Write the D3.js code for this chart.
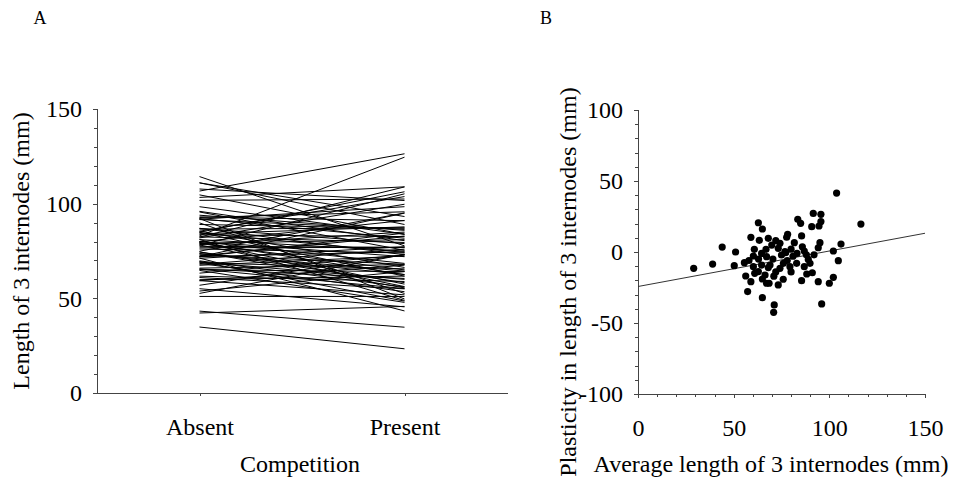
<!DOCTYPE html>
<html>
<head>
<meta charset="utf-8">
<script src="https://cdn.jsdelivr.net/npm/d3@7"></script>
<style>
  body { margin: 0; background: #fff; }
  svg text { font-family: "Liberation Serif", "Times New Roman", Times, serif; fill: #000; }
  .axis path, .axis line { stroke: #444; shape-rendering: crispEdges; }
</style>
</head>
<body>
<script>
// Panel B readings: average length of the 3 internodes and plasticity (present - absent), mm
var avgLength = [
  62.9, 65, 59, 63.4, 68.1, 44, 51, 60.8, 66.9,
  103.8, 91.6, 95.6, 83.5, 85, 95.6, 90.8, 94.6, 116.5, 78.2, 77.7, 85.5, 81.7, 95.1,
  106.1, 94.2, 102.1, 85.9, 86.9, 74.2, 69.9, 73.3, 76.8, 83.1,
  60.3, 64.6, 29.1, 39, 50.3, 55.6, 60.3, 56.3, 59, 67.2, 57.3, 65, 62.9, 66.4, 64.6, 68.1,
  67.2, 69, 75, 77.2, 104.7, 89, 89.9, 86.9, 82.9, 79.4, 74.2, 88.2, 91.1, 75.9, 73.3,
  68.5, 85.5, 94.2, 100, 102.1, 96, 71.2, 70.9,
  70.5, 72, 78, 80, 63, 71, 76, 81, 65, 61, 58, 80, 72, 88, 92
];
var plasticity = [
  20.6, 16.2, 10.3, 8.2, 9.6, 3.5, 0, 1.9, 1.9,
  41.5, 27.2, 26.5, 23, 20.2, 21.4, 17.8, 18.3, 19.7, 12.5, 10.4, 11.3, 6.6, 6.6,
  5.6, 3, 0.7, 3.7, 0.7, 6.1, 4.9, 2.6, 0.2, -1,
  -2.8, -1, -11.5, -8.5, -9.6, -7.5, -10.3, -16.9, -20.9, -22, -27.9, -32.2, -13.8, -16.2, -9.2, -11,
  -3.3, -9.2, -2.1, -0.5, -6.1, -5.2, -8, -10.3, -8, -10.3, -11.5, -15.5, -14.6, -19.2, -23.2,
  -22, -20.2, -20.9, -22, -17.8, -36.6, -37.3, -42.5,
  -5, -14, -6, -14, -5, -17, -8, -3, -19, -15, -6, 2, 8, -2, -2
];
var competition = ["Absent", "Present"];
var fitIntercept = -24.3, fitSlope = 0.25;   // fitted line in B

var lenTicks = [0, 50, 100, 150];
var plastTicks = [-100, -50, 0, 50, 100];

// pairs for panel A: absent / present lengths
var pairs = avgLength.map(function(m, i) {
  return { Absent: m - plasticity[i] / 2, Present: m + plasticity[i] / 2 };
});

var W = 958, H = 478, FS = 24;
var plain = function(d) { return String(d); };   // hyphen minus, as in the figure

var svg = d3.select("body").append("svg")
    .attr("width", W).attr("height", H);

function bigText(g) {
  g.selectAll("text")
      .attr("font-family", null)
      .style("font-size", FS + "px");
}

// ---------- panel A ----------
var xA = d3.scalePoint().domain(competition).range([97, 507]).padding(0.5);
var yA = d3.scaleLinear().domain([0, 150]).range([393, 109]);

var gA = svg.append("g");

var line = d3.line().x(function(d) { return xA(d[0]); }).y(function(d) { return yA(d[1]); });
gA.append("g").selectAll("path").data(pairs).enter()
    .append("path")
    .attr("fill", "none")
    .attr("stroke", "#000")
    .attr("stroke-width", 1)
    .attr("d", function(p) { return line([["Absent", p.Absent], ["Present", p.Present]]); });

gA.append("g").attr("class", "axis")
    .attr("transform", "translate(97,0)")
    .call(d3.axisLeft(yA).tickValues(d3.range(0, 151, 10)).tickSize(3).tickFormat(""));
gA.append("g").attr("class", "axis")
    .attr("transform", "translate(97,0)")
    .attr("font-family", null)
    .call(d3.axisLeft(yA).tickValues(lenTicks).tickSize(4).tickPadding(11).tickFormat(plain))
    .call(bigText);

gA.append("g").attr("class", "axis")
    .attr("transform", "translate(0,393)")
    .call(d3.axisBottom(xA).tickSize(3).tickPadding(22).tickSizeOuter(0))
    .call(bigText);

gA.append("text").attr("x", 300).attr("y", 472).attr("text-anchor", "middle")
    .style("font-size", FS + "px").text("Competition");
gA.append("text").attr("transform", "translate(29,251) rotate(-90)").attr("text-anchor", "middle")
    .style("font-size", FS + "px").text("Length of 3 internodes (mm)");
gA.append("text").attr("x", 40).attr("y", 24).attr("text-anchor", "middle")
    .style("font-size", "18px").text("A");

// ---------- panel B ----------
var xB = d3.scaleLinear().domain([0, 150]).range([638, 925]);
var yB = d3.scaleLinear().domain([-100, 100]).range([394, 110]);

var gB = svg.append("g");

gB.append("g").attr("class", "axis")
    .attr("transform", "translate(638,0)")
    .call(d3.axisLeft(yB).tickValues(d3.range(-100, 101, 10)).tickSize(3).tickFormat(""));
gB.append("g").attr("class", "axis")
    .attr("transform", "translate(638,0)")
    .call(d3.axisLeft(yB).tickValues(plastTicks).tickSize(4).tickPadding(11).tickFormat(plain))
    .call(bigText);

gB.append("g").attr("class", "axis")
    .attr("transform", "translate(0,394)")
    .call(d3.axisBottom(xB).tickValues(d3.range(0, 151, 10)).tickSize(3).tickFormat(""));
gB.append("g").attr("class", "axis")
    .attr("transform", "translate(0,394)")
    .call(d3.axisBottom(xB).tickValues(lenTicks).tickSize(4).tickPadding(21).tickFormat(plain))
    .call(bigText);

gB.append("line")
    .attr("x1", xB(0)).attr("y1", yB(fitIntercept))
    .attr("x2", xB(150)).attr("y2", yB(fitIntercept + fitSlope * 150))
    .attr("stroke", "#333").attr("stroke-width", 1);

gB.append("g").selectAll("circle").data(avgLength).enter()
    .append("circle")
    .attr("cx", function(d) { return xB(d); })
    .attr("cy", function(d, i) { return yB(plasticity[i]); })
    .attr("r", 3.6)
    .attr("fill", "#000");

gB.append("text").attr("x", 771).attr("y", 472).attr("text-anchor", "middle")
    .style("font-size", FS + "px").text("Average length of 3 internodes (mm)");
gB.append("text").attr("transform", "translate(576,282) rotate(-90)").attr("text-anchor", "middle")
    .style("font-size", FS + "px").text("Plasticity in length of 3 internodes (mm)");
gB.append("text").attr("x", 546).attr("y", 24).attr("text-anchor", "middle")
    .style("font-size", "18px").text("B");
</script>
</body>
</html>
